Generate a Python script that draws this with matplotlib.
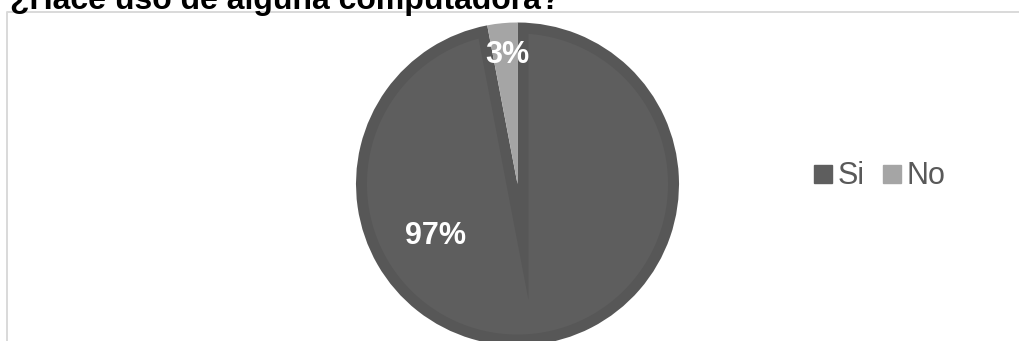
import numpy as np
import matplotlib
matplotlib.use("Agg")
import matplotlib.pyplot as plt
from matplotlib.lines import Line2D
from matplotlib.patches import Polygon

plt.rcParams["font.family"] = ["Liberation Sans", "DejaVu Sans"]

# Datos de la encuesta
categorias = ["Si", "No"]
porcentajes = [97, 3]
colores = ["#5e5e5e", "#a5a5a5"]
colores_borde = ["#575757", "#a5a5a5"]
titulo = "¿Hace uso de alguna computadora?"

fig = plt.figure(figsize=(10.2, 3.41), dpi=100)
W, H = 1020, 341

# Marco del área del gráfico (recortado a la derecha y abajo)
fig.add_artist(Line2D([7.5 / W, 7.5 / W, 1.0], [0.0, 1 - 11.5 / H, 1 - 11.5 / H],
                      transform=fig.transFigure, color="#d9d9d9", lw=1.4))

fig.text(10 / W, 1 - 8.5 / H, titulo, fontsize=23, fontweight="bold",
         color="black", va="baseline", ha="left")

# Ejes del pastel: centro (517.5, 184) px, radio 161.5 px
cx, cy, rad = 517.5, 184.0, 161.5
ax = fig.add_axes([(cx - rad) / W, (H - cy - rad) / H, 2 * rad / W, 2 * rad / H])
wedges, _ = ax.pie(porcentajes, colors=colores_borde, startangle=90,
                   counterclock=False, radius=1.0,
                   wedgeprops=dict(linewidth=0))
ax.set_xlim(-1, 1)
ax.set_ylim(-1, 1)
ax.axis("off")
for w in wedges:
    w.set_clip_on(False)

# Relleno interior del sector grande (efecto de bisel en los bordes)
d = 0.068
w = wedges[0]
a1, a2 = np.radians(w.theta1), np.radians(w.theta2)
if a2 < a1:
    a2 += 2 * np.pi
half = (a2 - a1) / 2
mid = a1 + half
dist = d / np.sin(half)
p = np.array([dist * np.cos(mid), dist * np.sin(mid)])
r_in = 1 - d
delta = np.arcsin(d / r_in)
arco = np.linspace(a1 + delta, a2 - delta, 400)
pts = np.vstack([p, np.column_stack([r_in * np.cos(arco), r_in * np.sin(arco)]), p])
ax.add_patch(Polygon(pts, closed=True, facecolor=colores[0], edgecolor="none",
                     clip_on=False, zorder=3))

# Etiquetas de datos
ax.text(-0.51, -0.32, f"{porcentajes[0]}%", color="white", fontsize=22,
        fontweight="bold", ha="center", va="center", zorder=5)
ax.text(-0.065, 0.80, f"{porcentajes[1]}%", color="white", fontsize=22,
        fontweight="bold", ha="center", va="center", zorder=5)

# Leyenda
handles = [Line2D([], [], marker="s", linestyle="none", markersize=13,
                  markerfacecolor=c, markeredgecolor=c) for c in colores]
fig.legend(handles, categorias, loc="center left",
           bbox_to_anchor=(814 / W, 1 - 176.5 / H), ncol=2, frameon=False,
           fontsize=22, labelcolor="#595959", handlelength=0.6,
           handletextpad=0.17, columnspacing=0.6, borderpad=0, borderaxespad=0)

fig.savefig("out.png", dpi=100)
